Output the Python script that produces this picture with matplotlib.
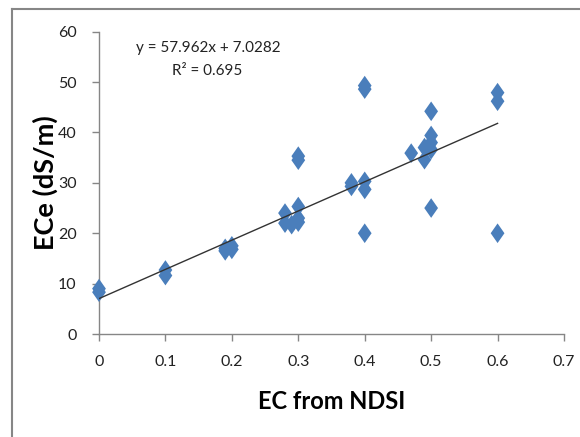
import matplotlib
matplotlib.use("Agg")
import matplotlib.pyplot as plt
from matplotlib.lines import Line2D
import numpy as np

# Data
ec_ndsi = [0.0, 0.0, 0.1, 0.1, 0.19, 0.19, 0.2, 0.2,
           0.28, 0.28, 0.29, 0.3, 0.3, 0.3, 0.3, 0.3,
           0.38, 0.38, 0.4, 0.4, 0.4, 0.4, 0.4,
           0.47, 0.49, 0.49, 0.5, 0.5, 0.5, 0.5, 0.5,
           0.6, 0.6, 0.6]
ece = [8.3, 9.0, 11.6, 12.7, 16.5, 17.0, 17.5, 16.8,
       24.0, 22.0, 21.7, 25.3, 23.0, 22.2, 34.5, 35.3,
       29.3, 30.0, 30.3, 28.7, 48.6, 49.3, 20.0,
       35.9, 34.6, 37.0, 36.6, 38.0, 39.4, 44.2, 25.0,
       47.9, 46.2, 20.0]
slope = 57.962
intercept = 7.0282
r2 = 0.695
x_ticks = [0, 0.1, 0.2, 0.3, 0.4, 0.5, 0.6, 0.7]
x_tick_labels = ["0", "0.1", "0.2", "0.3", "0.4", "0.5", "0.6", "0.7"]
y_ticks = [0, 10, 20, 30, 40, 50, 60]

plt.rcParams['font.family'] = ['Lato', 'DejaVu Sans']

W, H = 580, 437
fig = plt.figure(figsize=(W / 100, H / 100), dpi=100)
fig.patch.set_facecolor('white')

ax = fig.add_axes([99 / W, 1 - 334 / H, (564 - 99) / W, (334 - 31.7) / H])

diamond = [(0, 1), (0.7, 0), (0, -1), (-0.7, 0), (0, 1)]
ax.scatter(ec_ndsi, ece, marker=diamond, s=200, color='#4a7ebb',
           edgecolors='none', zorder=3, clip_on=False)

xl = np.array([0.0, 0.6])
ax.plot(xl, slope * xl + intercept, color='#333333', lw=1.0, zorder=4)

ax.set_xlim(0, 0.7)
ax.set_ylim(0, 60)
ax.set_xticks(x_ticks)
ax.set_xticklabels(x_tick_labels)
ax.set_yticks(y_ticks)

for s in ['top', 'right']:
    ax.spines[s].set_visible(False)
for s in ['left', 'bottom']:
    ax.spines[s].set_color('#868686')
    ax.spines[s].set_linewidth(1.0)
ax.tick_params(axis='both', colors='#868686', length=5, width=1.0,
               labelcolor='#222222', labelsize=11.5)
ax.tick_params(axis='x', pad=10)
ax.tick_params(axis='y', pad=11)

ax.set_xlabel('EC from NDSI', fontsize=17, fontweight='bold', labelpad=15)
ax.set_ylabel('ECe (dS/m)', fontsize=19.5, fontweight='bold')
ax.yaxis.set_label_coords((58 - 99) / (564 - 99), 0.5)

fig.text(208 / W, 1 - 48 / H, f'y = {slope}x + {intercept}', ha='center',
         va='center', fontsize=11, color='#222222')
fig.text(207 / W, 1 - 71 / H, f'R² = {r2}', ha='center', va='center',
         fontsize=11, color='#222222')

# Outer frame (partially visible)
fig.add_artist(Line2D([12 / W, 12 / W], [0, 1 - 9 / H], transform=fig.transFigure,
                      color='#868686', lw=1.5))
fig.add_artist(Line2D([12 / W, 1], [1 - 9 / H, 1 - 9 / H], transform=fig.transFigure,
                      color='#868686', lw=1.5))

fig.savefig('out.png', dpi=100)
